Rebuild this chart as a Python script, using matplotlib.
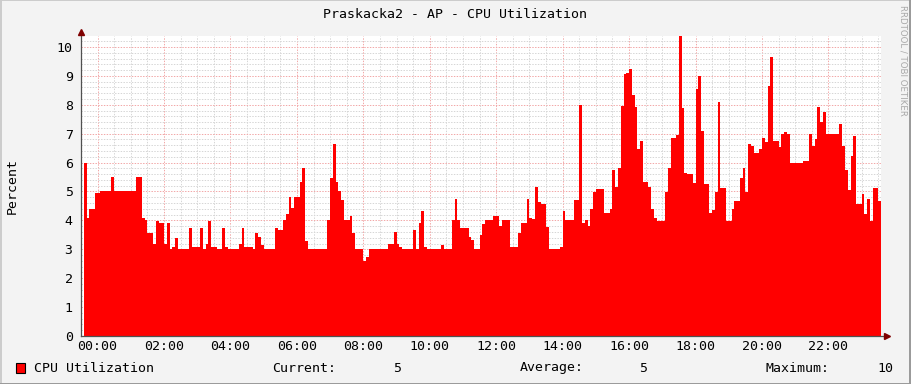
import numpy as np
import matplotlib.pyplot as plt
from matplotlib.patches import Rectangle
from matplotlib.lines import Line2D

# CPU utilization, one value per 5 minutes, starting 23:35 the day before
cpu = [
    6.0, 4.1, 4.4, 4.4, 4.95, 4.95, 5.0, 5.0, 5.0, 5.0, 5.5, 5.0,
    5.0, 5.0, 5.0, 5.0, 5.0, 5.0, 5.0, 5.5, 5.5, 4.1, 4.0, 3.55,
    3.55, 3.2, 3.98, 3.9, 3.9, 3.2, 3.9, 3.0, 3.07, 3.38, 3.0, 3.0,
    3.0, 3.0, 3.73, 3.07, 3.07, 3.07, 3.73, 3.0, 3.2, 3.98, 3.07, 3.07,
    3.0, 3.0, 3.75, 3.07, 3.0, 3.0, 3.0, 3.0, 3.2, 3.75, 3.08, 3.08,
    3.08, 3.0, 3.58, 3.42, 3.15, 3.0, 3.0, 3.0, 3.0, 3.75, 3.67, 3.67,
    4.0, 4.22, 4.8, 4.42, 4.8, 4.8, 5.33, 5.8, 3.3, 3.0, 3.0, 3.0,
    3.0, 3.0, 3.0, 3.0, 4.0, 5.46, 6.64, 5.33, 5.03, 4.7, 4.0, 4.0,
    4.15, 3.58, 3.0, 3.0, 3.0, 2.6, 2.74, 3.0, 3.0, 3.0, 3.0, 3.0,
    3.0, 3.0, 3.2, 3.2, 3.6, 3.2, 3.07, 3.0, 3.0, 3.0, 3.0, 3.67,
    3.0, 3.9, 4.34, 3.07, 3.0, 3.0, 3.0, 3.0, 3.0, 3.15, 3.0, 3.0,
    3.0, 4.0, 4.74, 4.0, 3.75, 3.75, 3.75, 3.44, 3.32, 3.0, 3.0, 3.5,
    3.88, 4.0, 4.0, 4.0, 4.15, 4.15, 3.8, 4.0, 4.0, 4.0, 3.09, 3.09,
    3.09, 3.58, 3.92, 3.92, 4.75, 4.1, 4.05, 5.17, 4.65, 4.57, 4.57, 3.76,
    3.0, 3.0, 3.0, 3.0, 3.08, 4.33, 4.0, 4.0, 4.0, 4.7, 4.7, 8.0,
    3.92, 4.0, 3.8, 4.4, 4.97, 5.07, 5.07, 5.1, 4.25, 4.25, 4.38, 5.74,
    5.17, 5.82, 7.96, 9.07, 9.1, 9.24, 8.34, 7.91, 6.47, 6.75, 5.32, 5.32,
    5.17, 4.38, 4.07, 3.99, 3.99, 3.99, 4.98, 5.82, 6.84, 6.84, 6.95, 10.38,
    7.88, 5.63, 5.6, 5.6, 5.28, 8.56, 9.0, 7.1, 5.26, 5.26, 4.25, 4.35,
    4.98, 8.1, 5.13, 5.13, 3.99, 3.99, 4.39, 4.67, 4.67, 5.48, 5.82, 4.98,
    6.64, 6.57, 6.34, 6.34, 6.46, 6.84, 6.72, 8.65, 9.64, 6.76, 6.76, 6.55,
    6.98, 7.05, 6.98, 6.0, 6.0, 6.0, 6.0, 6.0, 6.04, 6.04, 6.99, 6.57,
    6.82, 7.93, 7.42, 7.76, 6.99, 6.99, 6.99, 6.99, 6.99, 7.34, 6.57, 5.74,
    5.05, 6.23, 6.92, 4.57, 4.57, 4.91, 4.22, 4.74, 3.99, 5.13, 5.13, 4.67,
]
step_minutes = 5
start_hour = -25 / 60
hour_ticks = [0, 2, 4, 6, 8, 10, 12, 14, 16, 18, 20, 22]
hour_labels = ['00:00', '02:00', '04:00', '06:00', '08:00', '10:00',
               '12:00', '14:00', '16:00', '18:00', '20:00', '22:00']
y_ticks = [0, 1, 2, 3, 4, 5, 6, 7, 8, 9, 10]
stat_current = '5'
stat_average = '5'
stat_maximum = '10'

W, H = 911, 384
mono = 'DejaVu Sans Mono'
fs = 9.5

fig = plt.figure(figsize=(W / 100, H / 100), dpi=100, facecolor='#F3F3F3')
ax = fig.add_axes([81 / W, 48 / H, 800 / W, 300 / H], facecolor='white')

edges = start_hour + np.arange(len(cpu) + 1) * step_minutes / 60
ax.stairs(cpu, edges, fill=True, color='#FF0000', zorder=2)

ax.set_xlim(edges[0], edges[-1])
ax.set_ylim(0, 10.38)

ax.set_axisbelow(True)
ax.set_xticks(hour_ticks)
ax.set_xticklabels(hour_labels, fontfamily=mono, fontsize=fs)
ax.set_xticks(np.arange(-0.5, 23.6, 0.5), minor=True)
ax.set_yticks(y_ticks)
ax.set_yticklabels([str(v) for v in y_ticks], fontfamily=mono, fontsize=fs)
ax.set_yticks(np.arange(0, 10.39, 0.2), minor=True)
ax.grid(which='minor', color='#D6D6D6', linestyle=(0, (1.4, 1.4)), linewidth=0.72)
ax.grid(which='major', color='#F2A8A8', linestyle=(0, (1.4, 1.4)), linewidth=0.72)
ax.tick_params(which='both', length=0, pad=3)
ax.tick_params(axis='y', pad=6)

for s in ax.spines.values():
    s.set_visible(False)
ax.plot([0, 0], [0, 1.01], transform=ax.transAxes, color='#505050', lw=0.9, clip_on=False, zorder=5)
ax.plot([0, 1.006], [0, 0], transform=ax.transAxes, color='#505050', lw=0.9, clip_on=False, zorder=5)
ax.plot([0], [1.012], marker='^', markersize=4, color='#7F0000', transform=ax.transAxes, clip_on=False, zorder=6)
ax.plot([1.007], [0], marker='>', markersize=4, color='#7F0000', transform=ax.transAxes, clip_on=False, zorder=6)

def px(x, y):
    return x / W, 1 - y / H

fig.text(*px(455, 14), 'Praskacka2 - AP - CPU Utilization', ha='center', va='center',
         fontfamily=mono, fontsize=fs)
fig.text(*px(12, 186), 'Percent', ha='center', va='center', rotation=90,
         fontfamily=mono, fontsize=fs)
fig.text(*px(903, 5), 'RRDTOOL / TOBI OETIKER', ha='center', va='top', rotation=270,
         fontfamily='DejaVu Sans', fontsize=6.2, color='#A8A8A8')

# legend line
fig.add_artist(Rectangle(px(16, 373), 9 / W, 10 / H, transform=fig.transFigure,
                         facecolor='#FF0000', edgecolor='black', lw=0.8))
fig.text(*px(34, 368), 'CPU Utilization', ha='left', va='center', fontfamily=mono, fontsize=fs)
fig.text(*px(272, 368), 'Current:', ha='left', va='center', fontfamily=mono, fontsize=fs)
fig.text(*px(401, 368), stat_current, ha='right', va='center', fontfamily=mono, fontsize=fs)
fig.text(*px(520, 368), 'Average:', ha='left', va='center', fontfamily=mono, fontsize=fs)
fig.text(*px(647, 368), stat_average, ha='right', va='center', fontfamily=mono, fontsize=fs)
fig.text(*px(765, 368), 'Maximum:', ha='left', va='center', fontfamily=mono, fontsize=fs)
fig.text(*px(893, 368), stat_maximum, ha='right', va='center', fontfamily=mono, fontsize=fs)

# shaded frame
fig.add_artist(Line2D([0, 1], [0.999, 0.999], transform=fig.transFigure, color='#CBCBCB', lw=1.4))
fig.add_artist(Line2D([0.001, 0.001], [0, 1], transform=fig.transFigure, color='#CBCBCB', lw=1.4))
fig.add_artist(Line2D([0, 1], [0.001, 0.001], transform=fig.transFigure, color='#999999', lw=1.4))
fig.add_artist(Line2D([0.999, 0.999], [0, 1], transform=fig.transFigure, color='#999999', lw=1.4))

fig.savefig('out.png', dpi=100, facecolor=fig.get_facecolor())
